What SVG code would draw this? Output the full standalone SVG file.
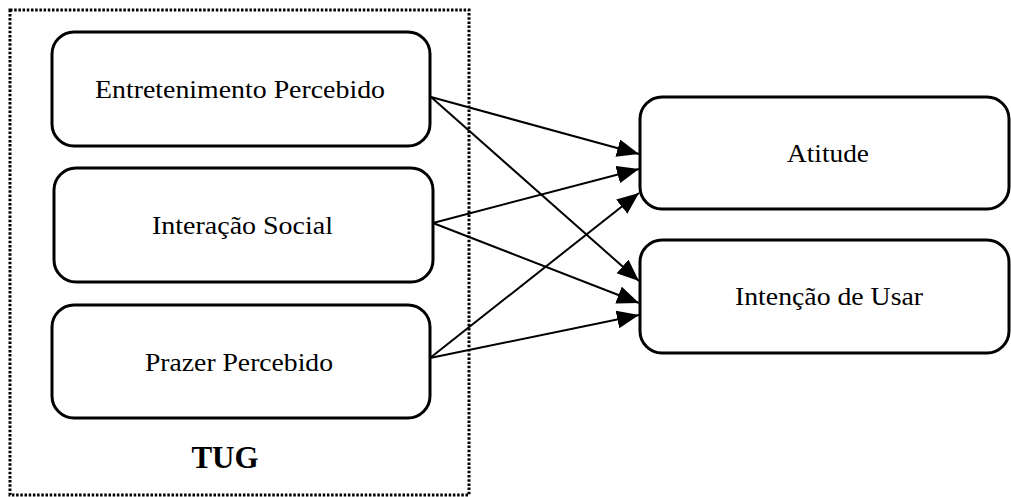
<svg xmlns="http://www.w3.org/2000/svg" width="1011" height="497" viewBox="0 0 1011 497">
<style>
.node{fill:#fff;stroke:#000;stroke-width:3}
.lbl{font-family:"Times New Roman","Liberation Serif",Tinos,Times,serif;font-size:26px;fill:#000;text-anchor:middle}
.edge{stroke:#000;stroke-width:2;fill:none;marker-end:url(#arr)}
</style>
<defs>
<marker id="arr" markerUnits="userSpaceOnUse" markerWidth="24" markerHeight="20" refX="22" refY="9" orient="auto">
<path d="M0,0 L22,9 L0,18 z" fill="#000"/>
</marker>
</defs>
<rect width="1011" height="497" fill="#fff"/>
<g id="tug">
<rect x="10" y="10" width="459" height="485" fill="none" stroke="#000" stroke-width="3" stroke-dasharray="2.5 1.7"/>
<text x="225" y="468" font-family="Times New Roman, Liberation Serif, serif" font-size="31" font-weight="bold" text-anchor="middle">TUG</text>
</g>
<g id="entretenimento">
<rect class="node" x="52" y="32" width="378" height="114" rx="22"/>
<text class="lbl" x="240" y="98" textLength="290" lengthAdjust="spacingAndGlyphs">Entretenimento Percebido</text>
</g>
<g id="interacao">
<rect class="node" x="54" y="168" width="379" height="114" rx="22"/>
<text class="lbl" x="242.5" y="234" textLength="181" lengthAdjust="spacingAndGlyphs">Interação Social</text>
</g>
<g id="prazer">
<rect class="node" x="52" y="305" width="378" height="113" rx="22"/>
<text class="lbl" x="239" y="371" textLength="188" lengthAdjust="spacingAndGlyphs">Prazer Percebido</text>
</g>
<g id="atitude">
<rect class="node" x="640" y="97" width="369" height="112" rx="22"/>
<text class="lbl" x="828" y="162" textLength="82" lengthAdjust="spacingAndGlyphs">Atitude</text>
</g>
<g id="intencao">
<rect class="node" x="640" y="240" width="369" height="113" rx="22"/>
<text class="lbl" x="829" y="305" textLength="188" lengthAdjust="spacingAndGlyphs">Intenção de Usar</text>
</g>
<g id="connectors">
<line class="edge" x1="431" y1="97" x2="639" y2="154"/>
<line class="edge" x1="431" y1="97" x2="639" y2="281"/>
<line class="edge" x1="433" y1="223" x2="639" y2="169"/>
<line class="edge" x1="433" y1="223" x2="639" y2="303"/>
<line class="edge" x1="430" y1="358" x2="639" y2="193"/>
<line class="edge" x1="430" y1="358" x2="639" y2="315"/>
</g>
</svg>
